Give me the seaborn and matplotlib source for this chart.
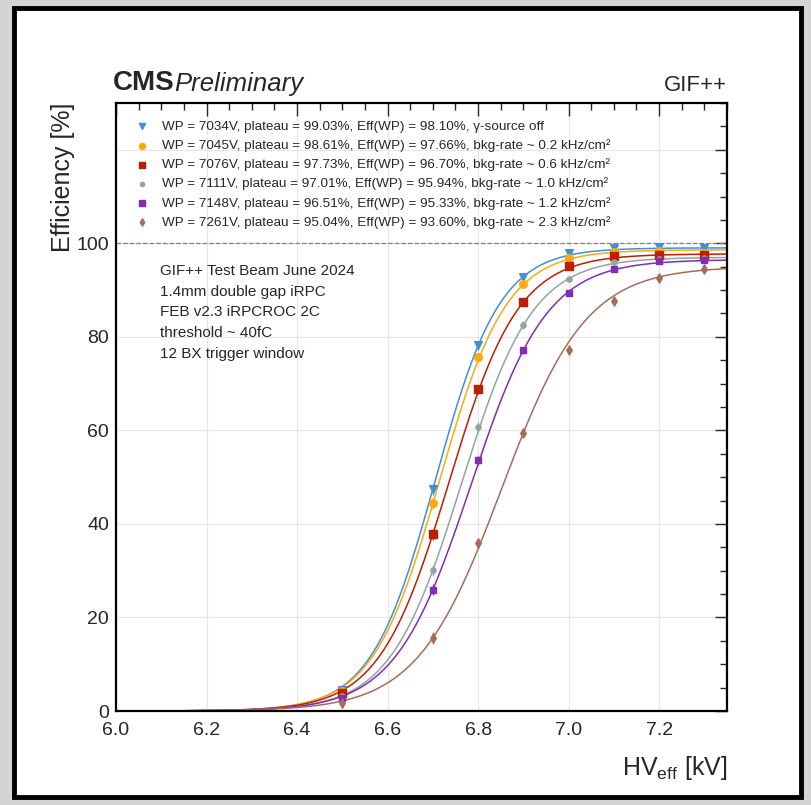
import numpy as np
import pandas as pd
import matplotlib
matplotlib.use('Agg')
import matplotlib.pyplot as plt
import seaborn as sns
from matplotlib.patches import Rectangle
from matplotlib.ticker import MultipleLocator, FixedLocator, FuncFormatter

sns.set_style('white')
plt.rcParams['font.family'] = ['Liberation Sans', 'DejaVu Sans']
plt.rcParams['mathtext.fontset'] = 'custom'
plt.rcParams['mathtext.rm'] = 'Liberation Sans'

# measured points
hv = [6.5, 6.7, 6.8, 6.9, 7.0, 7.1, 7.2, 7.3]
eff_0 = [4.5, 47.4, 78.2, 92.9, 97.9, 99.0, 99.3, 98.9]
eff_02 = [4.2, 44.4, 75.6, 91.2, 96.8, 98.1, 98.4, 97.9]
eff_06 = [3.9, 37.8, 68.8, 87.4, 95.1, 97.2, 97.6, 97.5]
eff_10 = [3.2, 30.1, 60.7, 82.5, 92.3, 96.0, 96.6, 96.8]
eff_12 = [2.8, 25.9, 53.6, 77.1, 89.3, 94.4, 96.2, 96.4]
eff_23 = [1.7, 15.6, 35.9, 59.4, 77.1, 87.6, 92.5, 94.4]
err = [1.0, 1.2, 1.0, 0.8, 0.6, 0.5, 0.5, 0.5]

# sigmoid fit parameters
plateau = [99.03, 98.61, 97.73, 97.01, 96.51, 95.04]
slope = [14.0, 13.55, 12.98, 12.68, 11.91, 10.7]
hv50 = [6.706, 6.715, 6.7355, 6.763, 6.784, 6.852]

labels = [
    'WP = 7034V, plateau = 99.03%, Eff(WP) = 98.10%, γ-source off',
    'WP = 7045V, plateau = 98.61%, Eff(WP) = 97.66%, bkg-rate ~ 0.2 kHz/cm²',
    'WP = 7076V, plateau = 97.73%, Eff(WP) = 96.70%, bkg-rate ~ 0.6 kHz/cm²',
    'WP = 7111V, plateau = 97.01%, Eff(WP) = 95.94%, bkg-rate ~ 1.0 kHz/cm²',
    'WP = 7148V, plateau = 96.51%, Eff(WP) = 95.33%, bkg-rate ~ 1.2 kHz/cm²',
    'WP = 7261V, plateau = 95.04%, Eff(WP) = 93.60%, bkg-rate ~ 2.3 kHz/cm²',
]
colors = ['#3f90da', '#ffa90e', '#bd1f01', '#94a4a2', '#832db6', '#a96b59']
markers = ['v', 'o', 's', 'o', 's', 'd']
msizes = [30, 30, 30, 14, 22, 22]

info = ['GIF++ Test Beam June 2024', '1.4mm double gap iRPC',
        'FEB v2.3 iRPCROC 2C', 'threshold ~ 40fC', '12 BX trigger window']

x_ticks = [6.0, 6.2, 6.4, 6.6, 6.8, 7.0, 7.2]
y_ticks = [0, 20, 40, 60, 80, 100, 120]

effs = [eff_0, eff_02, eff_06, eff_10, eff_12, eff_23]

fig = plt.figure(figsize=(8.12, 8.05), dpi=100)
fig.patch.set_facecolor('#d4d4d4')
fig.patches.append(Rectangle((14 / 812, 1 - 797 / 805), (801 - 14) / 812, (797 - 8) / 805,
                             transform=fig.transFigure, facecolor='white',
                             edgecolor='black', lw=3.5, zorder=-1))

ax = fig.add_axes([116 / 812, 1 - 711 / 805, 611 / 812, 608 / 805])

xx = np.linspace(6.0, 7.35, 400)
handles = []
for i in range(6):
    curve = pd.DataFrame({'hv': xx, 'eff': plateau[i] / (1 + np.exp(-slope[i] * (xx - hv50[i])))})
    sns.lineplot(data=curve, x='hv', y='eff', color=colors[i], lw=1.1, ax=ax, zorder=2)
    ax.errorbar(hv, effs[i], yerr=err, fmt='none', ecolor=colors[i], elinewidth=1, zorder=3)
    sc = ax.scatter(hv, effs[i], marker=markers[i], s=msizes[i],
                    color=colors[i], zorder=4, label=labels[i])
    handles.append(sc)

ax.axhline(100, color='grey', ls='--', lw=0.9, zorder=1)

ax.set_xlim(6.0, 7.35)
ax.set_ylim(0, 130)
ax.xaxis.set_major_locator(FixedLocator(x_ticks))
ax.xaxis.set_minor_locator(MultipleLocator(0.05))
ax.xaxis.set_major_formatter(FuncFormatter(lambda v, p: f'{v:.1f}'))
ax.yaxis.set_major_locator(FixedLocator(y_ticks))
ax.yaxis.set_minor_locator(MultipleLocator(5))
ax.yaxis.set_major_formatter(FuncFormatter(lambda v, p: f'{v:.0f}' if v <= 100 else ''))
ax.tick_params(which='both', direction='in', top=True, right=True, labelsize=14)
ax.tick_params(which='major', length=9, width=1)
ax.tick_params(which='minor', length=5, width=1)
ax.tick_params(axis='x', pad=8)
ax.tick_params(axis='y', pad=5)
ax.grid(True, which='major', color='#e6e6e6', lw=0.8)
ax.set_axisbelow(True)
for s in ax.spines.values():
    s.set_linewidth(1.6)
    s.set_color('black')

ax.set_xlabel(r'HV$_{\rm eff}$ [kV]', fontsize=18, loc='right', labelpad=11)
ax.set_ylabel('Efficiency [%]', fontsize=18, loc='top', labelpad=1)

ax.text(-0.005, 1.012, 'CMS', transform=ax.transAxes, fontsize=20, fontweight='bold', va='bottom')
ax.text(0.096, 1.012, 'Preliminary', transform=ax.transAxes, fontsize=18.5, style='italic', va='bottom')
ax.text(1.0, 1.012, 'GIF++', transform=ax.transAxes, fontsize=16, ha='right', va='bottom')

ax.text(0.072, 0.735, '\n'.join(info), transform=ax.transAxes, fontsize=11,
        va='top', ha='left', linespacing=1.6)

ax.legend(handles=handles, loc='upper left', frameon=False, fontsize=9.7,
          handletextpad=0.9, labelspacing=0.47, borderaxespad=0.9,
          markerscale=0.8, handlelength=1.2)

fig.savefig('out.png', dpi=100, facecolor=fig.get_facecolor())
